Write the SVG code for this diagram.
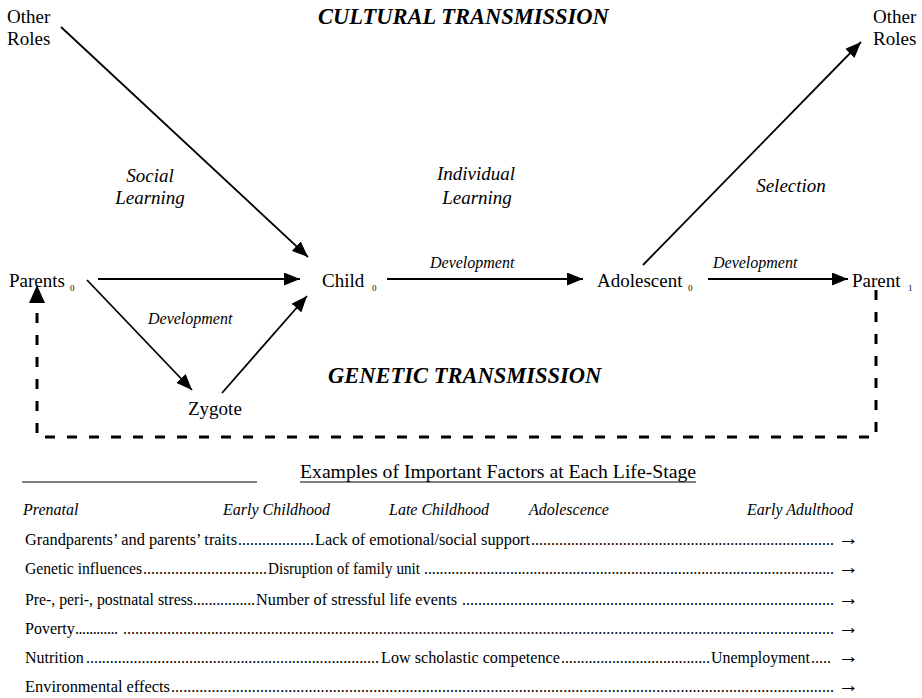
<svg xmlns="http://www.w3.org/2000/svg" width="922" height="698" viewBox="0 0 922 698" font-family="'Liberation Serif', 'Times New Roman', serif">
<style>
text{font-family:'Liberation Serif','Times New Roman',serif;fill:#000}
.n{font-size:19px}
.sub{font-size:9px}
.big{font-size:22.5px;font-weight:bold;font-style:italic}
.lab{font-size:19px;font-style:italic}
.dev{font-size:16px;font-style:italic}
.row{font-size:16px}
.arr{font-size:21px}
.hd{font-size:16px;font-style:italic}
.ln{stroke:#000;stroke-width:1.8;fill:none}
.dash{stroke:#000;stroke-width:3;fill:none;stroke-dasharray:10 12}
</style>
<defs>
<marker id="ah" markerUnits="userSpaceOnUse" markerWidth="17" markerHeight="13" refX="16" refY="6.5" orient="auto">
<path d="M0,0 L16,6.5 L0,13 z" fill="#000"/>
</marker>
</defs>

<text class="big" x="318" y="24">CULTURAL TRANSMISSION</text>
<text class="big" x="328" y="383">GENETIC TRANSMISSION</text>
<text class="lab" x="150" y="182" text-anchor="middle">Social</text>
<text class="lab" x="150" y="204" text-anchor="middle">Learning</text>
<text class="lab" x="476" y="180" text-anchor="middle">Individual</text>
<text class="lab" x="477" y="204" text-anchor="middle">Learning</text>
<text class="lab" x="791" y="192" text-anchor="middle">Selection</text>

<g id="other-roles-left"><text class="n" x="7" y="23">Other</text><text class="n" x="7" y="45">Roles</text></g>
<g id="other-roles-right"><text class="n" x="873" y="23">Other</text><text class="n" x="873" y="45">Roles</text></g>
<g id="parents0"><text class="n" x="9" y="287">Parents</text><text class="sub" x="70" y="291">0</text></g>
<g id="child0"><text class="n" x="322" y="287">Child</text><text class="sub" x="372" y="291">0</text></g>
<g id="adolescent0"><text class="n" x="597" y="287">Adolescent</text><text class="sub" x="688" y="291">0</text></g>
<g id="parent1"><text class="n" x="852" y="287">Parent</text><text class="sub" x="908" y="291">1</text></g>
<g id="zygote"><text class="n" x="188" y="415">Zygote</text></g>

<g id="connectors">
<line class="ln" x1="61" y1="27" x2="308" y2="257" marker-end="url(#ah)"/>
<line class="ln" x1="98" y1="279" x2="300" y2="279" marker-end="url(#ah)"/>
<line class="ln" x1="87" y1="280" x2="192" y2="390" marker-end="url(#ah)"/>
<line class="ln" x1="222" y1="393" x2="307" y2="296" marker-end="url(#ah)"/>
<line class="ln" x1="387" y1="279" x2="583" y2="279" marker-end="url(#ah)"/>
<line class="ln" x1="708" y1="279" x2="848" y2="279" marker-end="url(#ah)"/>
<line class="ln" x1="643" y1="265" x2="861" y2="42" marker-end="url(#ah)"/>
<path class="dash" d="M876,290 V437 H37 V302"/>
<polygon points="37,285 45,303 29,303" fill="#000"/>
<text class="dev" x="148" y="324">Development</text>
<text class="dev" x="430" y="268">Development</text>
<text class="dev" x="713" y="268">Development</text>
</g>

<g id="table">
<line x1="22" y1="482" x2="257" y2="482" stroke="#000" stroke-width="1"/>
<text x="300" y="478" font-size="19.5" textLength="396" lengthAdjust="spacingAndGlyphs">Examples of Important Factors at Each Life-Stage</text>
<line x1="300" y1="482" x2="696" y2="482" stroke="#000" stroke-width="1"/>

<text class="hd" x="23" y="515">Prenatal</text>
<text class="hd" x="223" y="515">Early Childhood</text>
<text class="hd" x="389" y="515">Late Childhood</text>
<text class="hd" x="529" y="515">Adolescence</text>
<text class="hd" x="747" y="515">Early Adulthood</text>

<text class="row" x="25" y="545" textLength="212" lengthAdjust="spacingAndGlyphs">Grandparents’ and parents’ traits</text>
<text class="row" x="238" y="545" textLength="76" lengthAdjust="spacing">...................</text>
<text class="row" x="315" y="545" textLength="215" lengthAdjust="spacingAndGlyphs">Lack of emotional/social support</text>
<text class="row" x="531" y="545" textLength="303" lengthAdjust="spacing">............................................................................</text>
<text class="arr" x="838" y="545">→</text>

<text class="row" x="25" y="574" textLength="117" lengthAdjust="spacingAndGlyphs">Genetic influences</text>
<text class="row" x="143" y="574" textLength="124" lengthAdjust="spacing">...............................</text>
<text class="row" x="268" y="574" textLength="152" lengthAdjust="spacingAndGlyphs">Disruption of family unit</text>
<text class="row" x="424" y="574" textLength="410" lengthAdjust="spacing">.........................................................................................................</text>
<text class="arr" x="838" y="574">→</text>

<text class="row" x="25" y="605" textLength="168" lengthAdjust="spacingAndGlyphs">Pre-, peri-, postnatal stress</text>
<text class="row" x="193" y="605" textLength="62" lengthAdjust="spacing">................</text>
<text class="row" x="256" y="605" textLength="201" lengthAdjust="spacingAndGlyphs">Number of stressful life events</text>
<text class="row" x="462" y="605" textLength="372" lengthAdjust="spacing">.............................................................................................</text>
<text class="arr" x="838" y="605">→</text>

<text class="row" x="25" y="634">Poverty</text>
<text class="row" x="75" y="634" textLength="43" lengthAdjust="spacing">............</text>
<text class="row" x="123" y="634" textLength="711" lengthAdjust="spacing">..................................................................................................................................................................................</text>
<text class="arr" x="838" y="634">→</text>

<text class="row" x="25" y="663">Nutrition</text>
<text class="row" x="86" y="663" textLength="293" lengthAdjust="spacing">..........................................................................</text>
<text class="row" x="381" y="663" textLength="179" lengthAdjust="spacingAndGlyphs">Low scholastic competence</text>
<text class="row" x="561" y="663" textLength="149" lengthAdjust="spacing">......................................</text>
<text class="row" x="711" y="663" textLength="99" lengthAdjust="spacingAndGlyphs">Unemployment</text>
<text class="row" x="811" y="663" textLength="20" lengthAdjust="spacing">.....</text>
<text class="arr" x="838" y="663">→</text>

<text class="row" x="25" y="692" textLength="145" lengthAdjust="spacingAndGlyphs">Environmental effects</text>
<text class="row" x="171" y="692" textLength="663" lengthAdjust="spacing">....................................................................................................................................................................</text>
<text class="arr" x="838" y="692">→</text>
</g>
</svg>
